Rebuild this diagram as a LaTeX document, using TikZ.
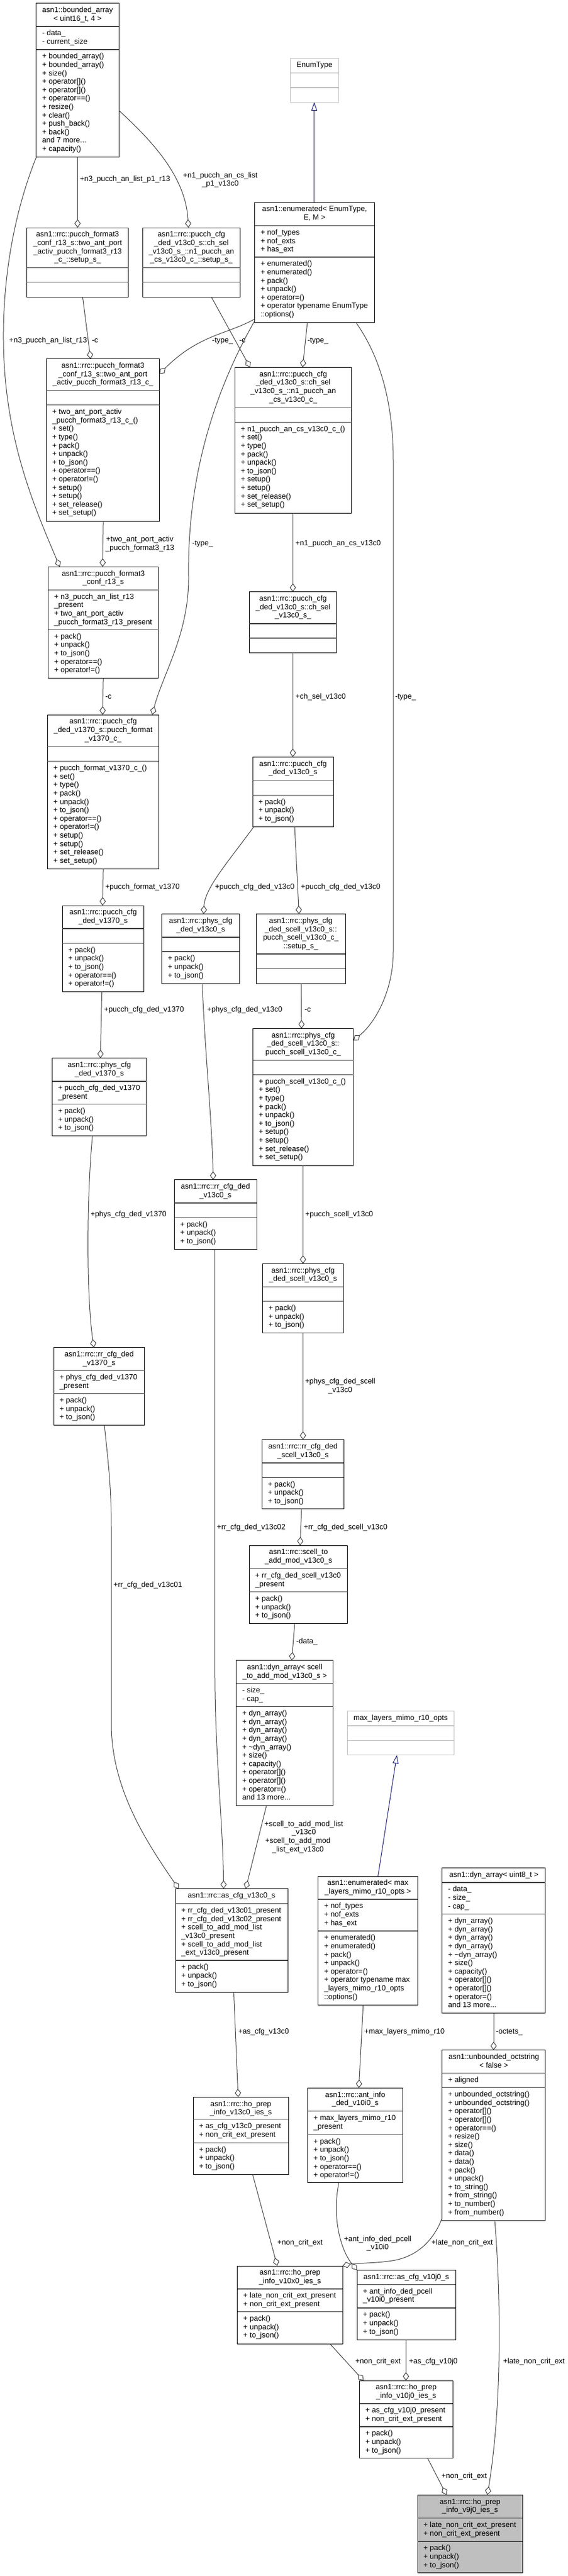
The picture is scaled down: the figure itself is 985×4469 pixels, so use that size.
\documentclass[tikz,border=0pt]{standalone}
\usepackage{fontspec}
\setmainfont{Liberation Sans}
\usetikzlibrary{arrows.meta,fit,calc}
\definecolor{edgec}{HTML}{404040}
\definecolor{navyc}{HTML}{191970}
\definecolor{tgray}{HTML}{BFBFBF}
\definecolor{sepc}{HTML}{404040}
\definecolor{selfill}{HTML}{BFBFBF}
\newcommand\dfont{\fontsize{9.75}{10.95}\selectfont}
\newcommand\fs{\rule{0pt}{8pt}}
\tikzset{
  regbox/.style={draw=black, line width=0.75pt, fill=white},
  tplbox/.style={draw=tgray, line width=0.75pt, fill=white},
  selbox/.style={draw=black, line width=0.75pt, fill=selfill},
  regsep/.style={draw=sepc, line width=1.1pt},
  tplsep/.style={draw=tgray, line width=1.1pt},
  ttl/.style={font=\dfont, inner sep=0pt, align=center, anchor=north},
  txt/.style={font=\dfont, inner sep=0pt, align=left, anchor=north west},
  lbl/.style={font=\dfont, inner sep=0pt, align=left, anchor=north west},
  clbl/.style={font=\dfont, inner sep=0pt, align=center, anchor=north},
  agg/.style={draw=edgec, line width=0.75pt, -{Diamond[open,fill=white,length=11pt,width=8pt]}},
  inh/.style={draw=navyc, line width=0.75pt, -{Triangle[open,fill=white,length=11pt,width=7.5pt]}},
}
% name, x1, y1, x2, y2, sep1, sep2, box style, separator style
\newcommand\ubox[9]{%
  \node[fit={(#2,#3) (#4,#5)}, inner sep=0pt, outer sep=0pt, #8] (#1) {};
  \draw[#9] (#2,#6) -- (#4,#6);
  \draw[#9] (#2,#7) -- (#4,#7);
  \coordinate (#1-t) at ({(#2+#4)/2},{#3+5});
  \coordinate (#1-a) at ({#2+10},{#6+5});
  \coordinate (#1-m) at ({#2+10},{#7+5});
}
\newcommand\uttl[2]{\node[ttl] (#1-tt) at (#1-t) {\fs#2};}
\newcommand\uatt[2]{\node[txt] (#1-at) at (#1-a) {\fs#2};}
\newcommand\umth[2]{\node[txt] (#1-mt) at (#1-m) {\fs#2};}
\newcommand\pujs{+ pack()\\+ unpack()\\+ to\_json()}
\newcommand\pujsop{+ pack()\\+ unpack()\\+ to\_json()\\+ operator==()\\+ operator!=()}
\newcommand\dynm{+ dyn\_array()\\+ dyn\_array()\\+ dyn\_array()\\+ dyn\_array()\\+ \textasciitilde dyn\_array()\\+ size()\\+ capacity()\\+ operator[]()\\+ operator[]()\\+ operator=()\\and 13 more...}
\begin{document}
\begin{tikzpicture}[x=0.75pt,y=-0.75pt]
\useasboundingbox (0,0) rectangle (985,4469);
\fill[white] (0,0) rectangle (985,4469);

% ---------------- boxes ----------------
\ubox{ba}{62.9}{5.7}{206.2}{272.7}{46}{86}{regbox}{regsep}
\uttl{ba}{asn1::bounded\_array\\< uint16\_t, 4 >}
\uatt{ba}{- data\_\\- current\_size}
\umth{ba}{+ bounded\_array()\\+ bounded\_array()\\+ size()\\+ operator[]()\\+ operator[]()\\+ operator==()\\+ resize()\\+ clear()\\+ push\_back()\\+ back()\\and 7 more...\\+ capacity()}

\ubox{enumT}{503.4}{101}{587.6}{177.3}{126.7}{152}{tplbox}{tplsep}
\uttl{enumT}{EnumType}

\ubox{enm}{441.8}{351}{649.2}{559.3}{391.7}{446}{regbox}{regsep}
\uttl{enm}{asn1::enumerated< EnumType,\\E, M >}
\uatt{enm}{+ nof\_types\\+ nof\_exts\\+ has\_ext}
\umth{enm}{+ enumerated()\\+ enumerated()\\+ pack()\\+ unpack()\\+ operator=()\\+ operator typename EnumType\\::options()}

\ubox{st1}{46.5}{395}{222.5}{515}{464.7}{489.7}{regbox}{regsep}
\uttl{st1}{asn1::rrc::pucch\_format3\\\_conf\_r13\_s::two\_ant\_port\\\_activ\_pucch\_format3\_r13\\\_c\_::setup\_s\_}

\ubox{st2}{247}{395}{416.7}{515}{464.7}{489.7}{regbox}{regsep}
\uttl{st2}{asn1::rrc::pucch\_cfg\\\_ded\_v13c0\_s::ch\_sel\\\_v13c0\_s\_::n1\_pucch\_an\\\_cs\_v13c0\_c\_::setup\_s\_}

\ubox{tac}{80.4}{622.7}{276.5}{904.3}{677.7}{702.7}{regbox}{regsep}
\uttl{tac}{asn1::rrc::pucch\_format3\\\_conf\_r13\_s::two\_ant\_port\\\_activ\_pucch\_format3\_r13\_c\_}
\umth{tac}{+ two\_ant\_port\_activ\\\_pucch\_format3\_r13\_c\_()\\+ set()\\+ type()\\+ pack()\\+ unpack()\\+ to\_json()\\+ operator==()\\+ operator!=()\\+ setup()\\+ setup()\\+ set\_release()\\+ set\_setup()}

\ubox{n1c}{407.3}{637.3}{609.6}{890}{707.3}{732.3}{regbox}{regsep}
\uttl{n1c}{asn1::rrc::pucch\_cfg\\\_ded\_v13c0\_s::ch\_sel\\\_v13c0\_s\_::n1\_pucch\_an\\\_cs\_v13c0\_c\_}
\umth{n1c}{+ n1\_pucch\_an\_cs\_v13c0\_c\_()\\+ set()\\+ type()\\+ pack()\\+ unpack()\\+ to\_json()\\+ setup()\\+ setup()\\+ set\_release()\\+ set\_setup()}

\ubox{p3c}{83.6}{983.3}{274.7}{1176.7}{1023.3}{1092.3}{regbox}{regsep}
\uttl{p3c}{asn1::rrc::pucch\_format3\\\_conf\_r13\_s}
\uatt{p3c}{+ n3\_pucch\_an\_list\_r13\\\_present\\+ two\_ant\_port\_activ\\\_pucch\_format3\_r13\_present}
\umth{p3c}{\pujsop}

\ubox{chs}{432.4}{1026.7}{583.9}{1132.7}{1082}{1107}{regbox}{regsep}
\uttl{chs}{asn1::rrc::pucch\_cfg\\\_ded\_v13c0\_s::ch\_sel\\\_v13c0\_s\_}

\ubox{pfc}{82.3}{1240}{275.3}{1507.3}{1295.3}{1320.7}{regbox}{regsep}
\uttl{pfc}{asn1::rrc::pucch\_cfg\\\_ded\_v1370\_s::pucch\_format\\\_v1370\_c\_}
\umth{pfc}{+ pucch\_format\_v1370\_c\_()\\+ set()\\+ type()\\+ pack()\\+ unpack()\\+ to\_json()\\+ operator==()\\+ operator!=()\\+ setup()\\+ setup()\\+ set\_release()\\+ set\_setup()}

\ubox{pcdb}{438}{1313.3}{578.2}{1434.3}{1353.7}{1379.3}{regbox}{regsep}
\uttl{pcdb}{asn1::rrc::pucch\_cfg\\\_ded\_v13c0\_s}
\umth{pcdb}{\pujs}

\ubox{pcda}{108.1}{1571}{249.5}{1720.7}{1611}{1636.3}{regbox}{regsep}
\uttl{pcda}{asn1::rrc::pucch\_cfg\\\_ded\_v1370\_s}
\umth{pcda}{\pujsop}

\ubox{phyb}{280.9}{1585.7}{415.4}{1706}{1626}{1651}{regbox}{regsep}
\uttl{phyb}{asn1::rrc::phys\_cfg\\\_ded\_v13c0\_s}
\umth{phyb}{\pujs}

\ubox{st3}{444.3}{1585.7}{599}{1706}{1655}{1680.7}{regbox}{regsep}
\uttl{st3}{asn1::rrc::phys\_cfg\\\_ded\_scell\_v13c0\_s::\\pucch\_scell\_v13c0\_c\_\\::setup\_s\_}

\ubox{phya}{90.5}{1835.7}{253.9}{1970.7}{1876}{1915.7}{regbox}{regsep}
\uttl{phya}{asn1::rrc::phys\_cfg\\\_ded\_v1370\_s}
\uatt{phya}{+ pucch\_cfg\_ded\_v1370\\\_present}
\umth{phya}{\pujs}

\ubox{psc}{438.7}{1784.3}{612.8}{2022}{1839.3}{1864.3}{regbox}{regsep}
\uttl{psc}{asn1::rrc::phys\_cfg\\\_ded\_scell\_v13c0\_s::\\pucch\_scell\_v13c0\_c\_}
\umth{psc}{+ pucch\_scell\_v13c0\_c\_()\\+ set()\\+ type()\\+ pack()\\+ unpack()\\+ to\_json()\\+ setup()\\+ setup()\\+ set\_release()\\+ set\_setup()}

\ubox{rrb}{302.3}{2046.7}{445}{2167.3}{2087}{2112.3}{regbox}{regsep}
\uttl{rrb}{asn1::rrc::rr\_cfg\_ded\\\_v13c0\_s}
\umth{rrb}{\pujs}

\ubox{phsc}{455.7}{2192.3}{595.2}{2312.7}{2232.7}{2257.7}{regbox}{regsep}
\uttl{phsc}{asn1::rrc::phys\_cfg\\\_ded\_scell\_v13c0\_s}
\umth{phsc}{\pujs}

\ubox{rra}{93}{2337.7}{250.8}{2472.7}{2377.7}{2417.7}{regbox}{regsep}
\uttl{rra}{asn1::rrc::rr\_cfg\_ded\\\_v1370\_s}
\uatt{rra}{+ phys\_cfg\_ded\_v1370\\\_present}
\umth{rra}{\pujs}

\ubox{rrsc}{454.4}{2497.7}{596.4}{2617.7}{2538}{2563.3}{regbox}{regsep}
\uttl{rrsc}{asn1::rrc::rr\_cfg\_ded\\\_scell\_v13c0\_s}
\umth{rrsc}{\pujs}

\ubox{sam}{432.4}{2681}{602.7}{2816.7}{2721.7}{2761.7}{regbox}{regsep}
\uttl{sam}{asn1::rrc::scell\_to\\\_add\_mod\_v13c0\_s}
\uatt{sam}{+ rr\_cfg\_ded\_scell\_v13c0\\\_present}
\umth{sam}{\pujs}

\ubox{dyna}{409.8}{2880.7}{577.6}{3132.7}{2920.7}{2960.7}{regbox}{regsep}
\uttl{dyna}{asn1::dyn\_array< scell\\\_to\_add\_mod\_v13c0\_s >}
\uatt{dyna}{- size\_\\- cap\_}
\umth{dyna}{\dynm}

\ubox{mlo}{602.1}{2968.7}{787.5}{3044.7}{2994}{3019.3}{tplbox}{tplsep}
\uttl{mlo}{max\_layers\_mimo\_r10\_opts}

\ubox{ascb}{304.2}{3276.7}{499}{3456}{3302.7}{3401}{regbox}{regsep}
\uttl{ascb}{asn1::rrc::as\_cfg\_v13c0\_s}
\uatt{ascb}{+ rr\_cfg\_ded\_v13c01\_present\\+ rr\_cfg\_ded\_v13c02\_present\\+ scell\_to\_add\_mod\_list\\\_v13c0\_present\\+ scell\_to\_add\_mod\_list\\\_ext\_v13c0\_present}
\umth{ascb}{\pujs}

\ubox{enmx}{551.8}{3255}{724}{3478.3}{3295}{3350}{regbox}{regsep}
\uttl{enmx}{asn1::enumerated< max\\\_layers\_mimo\_r10\_opts >}
\uatt{enmx}{+ nof\_types\\+ nof\_exts\\+ has\_ext}
\umth{enmx}{+ enumerated()\\+ enumerated()\\+ pack()\\+ unpack()\\+ operator=()\\+ operator typename max\\\_layers\_mimo\_r10\_opts\\ ::options()}

\ubox{dynb}{766.8}{3240.3}{945.9}{3492.7}{3266}{3320.7}{regbox}{regsep}
\uttl{dynb}{asn1::dyn\_array< uint8\_t >}
\uatt{dynb}{- data\_\\- size\_\\- cap\_}
\umth{dynb}{\dynm}

\ubox{uoct}{766.8}{3556.7}{945.9}{3852.3}{3596.7}{3621.7}{regbox}{regsep}
\uttl{uoct}{asn1::unbounded\_octstring\\< false >}
\uatt{uoct}{+ aligned}
\umth{uoct}{+ unbounded\_octstring()\\+ unbounded\_octstring()\\+ operator[]()\\+ operator[]()\\+ operator==()\\+ resize()\\+ size()\\+ data()\\+ data()\\+ pack()\\+ unpack()\\+ to\_string()\\+ from\_string()\\+ to\_number()\\+ from\_number()}

\ubox{ant}{533.3}{3622.3}{698.7}{3786.7}{3662.7}{3703.3}{regbox}{regsep}
\uttl{ant}{asn1::rrc::ant\_info\\\_ded\_v10i0\_s}
\uatt{ant}{+ max\_layers\_mimo\_r10\\\_present}
\umth{ant}{\pujsop}

\ubox{hvc}{335}{3638.3}{500.3}{3772}{3676.7}{3717.3}{regbox}{regsep}
\uttl{hvc}{asn1::rrc::ho\_prep\\\_info\_v13c0\_ies\_s}
\uatt{hvc}{+ as\_cfg\_v13c0\_present\\+ non\_crit\_ext\_present}
\umth{hvc}{\pujs}

\ubox{hvx}{411.7}{3931}{594}{4066}{3971}{4010.7}{regbox}{regsep}
\uttl{hvx}{asn1::rrc::ho\_prep\\\_info\_v10x0\_ies\_s}
\uatt{hvx}{+ late\_non\_crit\_ext\_present\\+ non\_crit\_ext\_present}
\umth{hvx}{\pujs}

\ubox{asj}{619.1}{3938.3}{790}{4059}{3963.3}{4004}{regbox}{regsep}
\uttl{asj}{asn1::rrc::as\_cfg\_v10j0\_s}
\uatt{asj}{+ ant\_info\_ded\_pcell\\\_v10i0\_present}
\umth{asj}{\pujs}

\ubox{hvj}{623.5}{4130}{785}{4264.7}{4170}{4210}{regbox}{regsep}
\uttl{hvj}{asn1::rrc::ho\_prep\\\_info\_v10j0\_ies\_s}
\uatt{hvj}{+ as\_cfg\_v10j0\_present\\+ non\_crit\_ext\_present}
\umth{hvj}{\pujs}

\ubox{hvn}{724}{4328.3}{906.3}{4463.3}{4368.7}{4409}{selbox}{regsep}
\uttl{hvn}{asn1::rrc::ho\_prep\\\_info\_v9j0\_ies\_s}
\uatt{hvn}{+ late\_non\_crit\_ext\_present\\+ non\_crit\_ext\_present}
\umth{hvn}{\pujs}

% ---------------- connectors ----------------
\draw[inh] ($(enm.north west)+(103.1,0)$) -- ($(enumT.south west)+(41.5,0)$);
\draw[inh] ($(enmx.north west)+(103.7,0)$) -- ($(mlo.south west)+(86.1,0)$);

\draw[agg] (ba.south west) .. controls (28,360) and (5,470) .. (6,590) .. controls (7,760) and (60,880) .. ($(p3c.north west)+(20,0)$);
\draw[agg] (ba.south) -- (st1.north);
\draw[agg] ($(ba.north east)+(0,186)$) .. controls (270,250) and (322,310) .. ($(st2.north west)+(79.8,0)$);
\draw[agg] ($(st1.south west)+(96.8,0)$) -- ($(tac.north west)+(76.7,0)$);
\draw[agg] ($(st2.south west)+(119.4,0)$) -- ($(n1c.north west)+(26.4,0)$);
\draw[agg] ($(enm.south west)+(0,-6)$) .. controls (395,580) and (345,580) .. ($(tac.north east)+(0,26)$);
\draw[agg] ($(enm.south west)+(0,-3)$) .. controls (360,700) and (325,850) .. (327,1000) .. controls (328,1100) and (282,1170) .. ($(pfc.north west)+(181.7,0)$);
\draw[agg] ($(enm.south west)+(91.2,0)$) -- ($(n1c.north west)+(117.5,0)$);
\draw[agg] ($(enm.south west)+(175.4,0)$) .. controls (660,620) and (682,700) .. (682,800) -- (682,1650) .. controls (682,1720) and (650,1775) .. ($(psc.north east)+(0,20.7)$);
\draw[agg] ($(tac.south west)+(98.7,0)$) -- ($(p3c.north west)+(94.3,0)$);
\draw[agg] ($(n1c.south west)+(100.5,0)$) -- ($(chs.north west)+(75.4,0)$);
\draw[agg] ($(p3c.south west)+(95.5,0)$) -- ($(pfc.north west)+(95.6,0)$);
\draw[agg] ($(chs.south west)+(75.4,0)$) -- ($(pcdb.north west)+(69.8,0)$);
\draw[agg] ($(pfc.south west)+(96.8,0)$) -- ($(pcda.north west)+(69.8,0)$);
\draw[agg] ($(pcdb.south west)+(2,0)$) .. controls (400,1490) and (355,1540) .. ($(phyb.north west)+(72.3,0)$);
\draw[agg] ($(pcdb.south west)+(73,0)$) -- ($(st3.north west)+(74.2,0)$);
\draw[agg] ($(pcda.south west)+(68.5,0)$) -- ($(phya.north west)+(83.6,0)$);
\draw[agg] ($(phyb.south west)+(69.8,0)$) .. controls (355,1820) and (368,1950) .. ($(rrb.north west)+(67.3,0)$);
\draw[agg] ($(st3.south west)+(78,0)$) -- ($(psc.north west)+(84.2,0)$);
\draw[agg] ($(phya.south west)+(69.8,0)$) .. controls (150,2080) and (150,2250) .. ($(rra.north west)+(69.8,0)$);
\draw[agg] ($(psc.south west)+(86.7,0)$) -- ($(phsc.north west)+(69.7,0)$);
\draw[agg] ($(rrb.south west)+(70.4,0)$) -- (372.7,2900) .. controls (373,3050) and (386,3150) .. ($(ascb.north west)+(83.6,0)$);
\draw[agg] ($(phsc.south west)+(69.7,0)$) -- ($(rrsc.north west)+(71,0)$);
\draw[agg] ($(rra.south west)+(88,0)$) .. controls (188,2540) and (193,2580) .. (193,2650) -- (193,2990) .. controls (193,3100) and (250,3190) .. ($(ascb.north west)+(5.7,0)$);
\draw[agg] ($(rrsc.south west)+(68.5,0)$) -- ($(sam.north west)+(88,0)$);
\draw[agg] ($(sam.south west)+(78.6,0)$) -- ($(dyna.north west)+(96.2,0)$);
\draw[agg] ($(dyna.south west)+(52.2,0)$) -- ($(ascb.north west)+(121.9,0)$);
\draw[agg] ($(ascb.south west)+(101.2,0)$) -- ($(hvc.north west)+(78,0)$);
\draw[agg] ($(enmx.south west)+(78,0)$) -- ($(ant.north west)+(88.9,0)$);
\draw[agg] ($(dynb.south west)+(89.2,0)$) -- ($(uoct.north west)+(89.2,0)$);
\draw[agg] ($(hvc.south west)+(103,0)$) -- ($(hvx.north west)+(69.1,0)$);
\draw[agg] ($(ant.south west)+(54.3,0)$) .. controls (575,3850) and (592,3905) .. (asj.north west);
\draw[agg] ($(uoct.south west)+(-1,-2)$) .. controls (752,3885) and (725,3915) .. (680,3922) .. controls (650,3926.7) and (615,3926) .. (hvx.north east);
\draw[agg] ($(hvx.south west)+(160.3,0)$) -- ($(hvj.north west)+(6.9,0)$);
\draw[agg] ($(asj.south west)+(84.9,0)$) -- ($(hvj.north west)+(80.5,0)$);
\draw[agg] ($(hvj.south west)+(118.1,0)$) -- ($(hvn.north west)+(50.3,0)$);
\draw[agg] ($(uoct.south west)+(91.2,0)$) .. controls (866,3950) and (874,4150) .. ($(hvn.north west)+(121.3,0)$);

% ---------------- connector labels ----------------
\node[lbl] (l1) at (138.3,304) {\fs+n3\_pucch\_an\_list\_p1\_r13};
\node[clbl] (l2) at (382,297.3) {\fs+n1\_pucch\_an\_cs\_list\\\_p1\_v13c0};
\node[lbl] (l3) at (15.7,584) {\fs+n3\_pucch\_an\_list\_r13};
\node[lbl] (l4) at (159,584) {\fs-c};
\node[lbl] (l5) at (367.7,584) {\fs-type\_};
\node[lbl] (l6) at (414.8,584) {\fs-c};
\node[lbl] (l7) at (533,584) {\fs-type\_};
\node[clbl] (l8) at (242.5,929) {\fs+two\_ant\_port\_activ\\\_pucch\_format3\_r13};
\node[lbl] (l9) at (333,936) {\fs-type\_};
\node[lbl] (l10) at (512.3,936) {\fs+n1\_pucch\_an\_cs\_v13c0};
\node[lbl] (l11) at (182.3,1201.6) {\fs-c};
\node[lbl] (l12) at (512.3,1201.6) {\fs+ch\_sel\_v13c0};
\node[lbl] (l13) at (685,1201.6) {\fs-type\_};
\node[lbl] (l14) at (182.3,1532) {\fs+pucch\_format\_v1370};
\node[lbl] (l15) at (372.7,1532) {\fs+pucch\_cfg\_ded\_v13c0};
\node[lbl] (l16) at (521.7,1532) {\fs+pucch\_cfg\_ded\_v13c0};
\node[lbl] (l17) at (180.4,1745) {\fs+pucch\_cfg\_ded\_v1370};
\node[lbl] (l18) at (358.9,1745) {\fs+phys\_cfg\_ded\_v13c0};
\node[lbl] (l19) at (528,1745) {\fs-c};
\node[lbl] (l20) at (157.1,2100) {\fs+phys\_cfg\_ded\_v1370};
\node[lbl] (l21) at (529.2,2100) {\fs+pucch\_scell\_v13c0};
\node[clbl] (l22) at (590,2390) {\fs+phys\_cfg\_ded\_scell\\\_v13c0};
\node[lbl] (l23) at (375.9,2642.3) {\fs+rr\_cfg\_ded\_v13c02};
\node[lbl] (l24) at (526.7,2642.3) {\fs+rr\_cfg\_ded\_scell\_v13c0};
\node[lbl] (l25) at (196.7,2742.3) {\fs+rr\_cfg\_ded\_v13c01};
\node[lbl] (l26) at (513.5,2841) {\fs-data\_};
\node[clbl] (l27) at (526.8,3157.3) {\fs+scell\_to\_add\_mod\_list\\\_v13c0};
\node[clbl] (l28) at (516.6,3186.6) {\fs+scell\_to\_add\_mod\\\_list\_ext\_v13c0};
\node[lbl] (l29) at (413,3517.3) {\fs+as\_cfg\_v13c0};
\node[lbl] (l30) at (631.7,3517.3) {\fs+max\_layers\_mimo\_r10};
\node[lbl] (l31) at (859.8,3517.3) {\fs-octets\_};
\node[lbl] (l32) at (480.8,3884) {\fs+non\_crit\_ext};
\node[clbl] (l33) at (655,3877.3) {\fs+ant\_info\_ded\_pcell\\\_v10i0};
\node[lbl] (l34) at (748,3884) {\fs+late\_non\_crit\_ext};
\node[lbl] (l35) at (616,4090) {\fs+non\_crit\_ext};
\node[lbl] (l36) at (709,4090) {\fs+as\_cfg\_v10j0};
\node[lbl] (l37) at (872.4,4090) {\fs+late\_non\_crit\_ext};
\node[lbl] (l38) at (765.5,4289) {\fs+non\_crit\_ext};
\end{tikzpicture}
\end{document}
